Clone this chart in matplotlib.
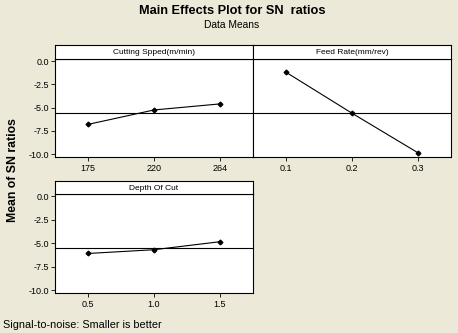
import matplotlib
matplotlib.use("Agg")
import matplotlib.pyplot as plt

plt.rcParams['font.family'] = ['Liberation Sans', 'DejaVu Sans']

# Factor levels and mean S/N ratios for each level
speed_levels = ["175", "220", "264"]
speed_sn = [-6.80, -5.25, -4.60]

feed_levels = ["0.1", "0.2", "0.3"]
feed_sn = [-1.20, -5.60, -9.85]

depth_levels = ["0.5", "1.0", "1.5"]
depth_sn = [-6.10, -5.70, -4.85]

y_ticks = [0.0, -2.5, -5.0, -7.5, -10.0]
y_ticklabels = ["0.0", "-2.5", "-5.0", "-7.5", "-10.0"]

panel_titles = ["Cutting Spped(m/min)", "Feed Rate(mm/rev)", "Depth Of Cut"]

all_sn = speed_sn + feed_sn + depth_sn
grand_mean = sum(all_sn) / len(all_sn)

BG = "#ECE9D8"
W, H = 458, 333
fig = plt.figure(figsize=(W / 100, H / 100), dpi=100, facecolor=BG)


def px_rect(x0, y0, x1, y1):
    return [x0 / W, 1 - y1 / H, (x1 - x0) / W, (y1 - y0) / H]


def draw_panel(x0, x1, top, strip_bottom, bottom, levels, values, title, show_y):
    ax = fig.add_axes(px_rect(x0, strip_bottom, x1, bottom))
    ax.set_facecolor("white")
    pos = list(range(1, len(levels) + 1))
    ax.plot(pos, values, color="black", lw=0.8, marker="D", ms=2.4,
            mfc="black", mec="black")
    ax.axhline(grand_mean, color="black", lw=0.8)
    ax.set_xlim(0.5, len(levels) + 0.5)
    ax.set_ylim(-10.3, 0.22)
    ax.set_xticks(pos)
    ax.set_xticklabels(levels)
    ax.set_yticks(y_ticks)
    if show_y:
        ax.set_yticklabels(y_ticklabels)
        ax.tick_params(axis="y", length=3, width=0.6, labelsize=6.5, pad=1.5)
    else:
        ax.tick_params(axis="y", length=0, labelleft=False)
    ax.tick_params(axis="x", length=3, width=0.6, labelsize=6.5, pad=2)
    for s in ax.spines.values():
        s.set_linewidth(0.8)
    # header strip with the factor name
    hx = fig.add_axes(px_rect(x0, top, x1, strip_bottom))
    hx.set_facecolor("white")
    hx.set_xticks([])
    hx.set_yticks([])
    for s in hx.spines.values():
        s.set_linewidth(0.8)
    hx.text(0.5, 0.45, title, ha="center", va="center", fontsize=6,
            transform=hx.transAxes)
    return ax


draw_panel(55, 253, 45, 59, 157, speed_levels, speed_sn, panel_titles[0], True)
draw_panel(253, 451, 45, 59, 157, feed_levels, feed_sn, panel_titles[1], False)
draw_panel(55, 253, 181, 194, 293, depth_levels, depth_sn, panel_titles[2], True)

fig.text(232 / W, 1 - 11 / H, "Main Effects Plot for SN  ratios", ha="center",
         va="center", fontsize=9.2, fontweight="bold")
fig.text(232 / W, 1 - 25 / H, "Data Means", ha="center", va="center",
         fontsize=7.4)
fig.text(13 / W, 1 - 170 / H, "Mean of SN ratios", ha="center", va="center",
         rotation=90, fontsize=8.8, fontweight="bold")
fig.text(3 / W, 1 - 325 / H, "Signal-to-noise: Smaller is better", ha="left",
         va="center", fontsize=7.8)

fig.savefig("out.png", dpi=100, facecolor=BG)
